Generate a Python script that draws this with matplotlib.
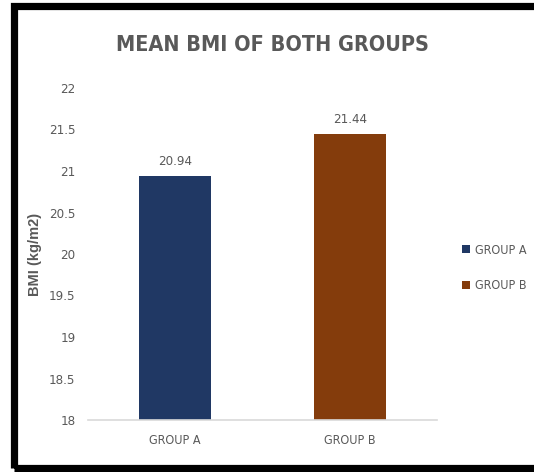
import matplotlib.pyplot as plt
from matplotlib.patches import Rectangle

groups = ['GROUP A', 'GROUP B']
bmi = [20.94, 21.44]
bar_colors = ['#203864', '#843C0C']
yticks = [18, 18.5, 19, 19.5, 20, 20.5, 21, 21.5, 22]

W, H = 534, 472
grey = '#595959'
plt.rcParams['font.family'] = ['DejaVu Sans']
plt.rcParams['font.stretch'] = 'condensed'

fig = plt.figure(figsize=(W / 100, H / 100), dpi=100)
ax = fig.add_axes([88 / W, 1 - 420 / H, 349 / W, 332 / H])

x = range(len(groups))
bars = ax.bar(x, bmi, width=0.41, color=bar_colors, label=groups, zorder=2)
ax.set_ylim(18, 22)
ax.set_xlim(-0.5, 1.5)
ax.set_yticks(yticks)
ax.set_yticklabels([f'{t:g}' for t in yticks], fontsize=9.5, color=grey)
ax.set_xticks(list(x))
ax.set_xticklabels(groups, fontsize=9, color=grey)
ax.tick_params(length=0, pad=10)
ax.tick_params(axis='y', pad=9)

for s in ['top', 'right', 'left']:
    ax.spines[s].set_visible(False)
ax.spines['bottom'].set_color('#D9D9D9')
ax.spines['bottom'].set_linewidth(1.2)

for b, v in zip(bars, bmi):
    ax.text(b.get_x() + b.get_width() / 2, v + 0.1, f'{v:.2f}', ha='center', va='bottom',
            fontsize=9.5, color=grey)

ax.set_ylabel('BMI (kg/m2)', family='Liberation Sans', stretch='normal', fontweight='bold',
              fontsize=10.5, color=grey)
ax.yaxis.set_label_coords(-46 / 349, 0.5)

fig.text(273 / W, 1 - 45 / H, 'MEAN BMI OF BOTH GROUPS', ha='center', va='center',
         fontweight='bold', fontsize=15.5, color=grey)

fig.legend(handles=bars, labels=groups, loc='center left', bbox_to_anchor=(451 / W, 1 - 268 / H),
           frameon=False, prop={'size': 9, 'stretch': 'condensed'}, labelcolor=grey,
           handlelength=0.6, handleheight=0.6, handletextpad=0.4, labelspacing=1.8)

# black frame around the chart
fig.patches.append(Rectangle((14 / W, 4.5 / H), 1.1, 1 - 4.5 / H - 5.5 / H, transform=fig.transFigure,
                             fill=False, edgecolor='black', linewidth=5.2, zorder=10))

fig.savefig('out.png', dpi=100)
